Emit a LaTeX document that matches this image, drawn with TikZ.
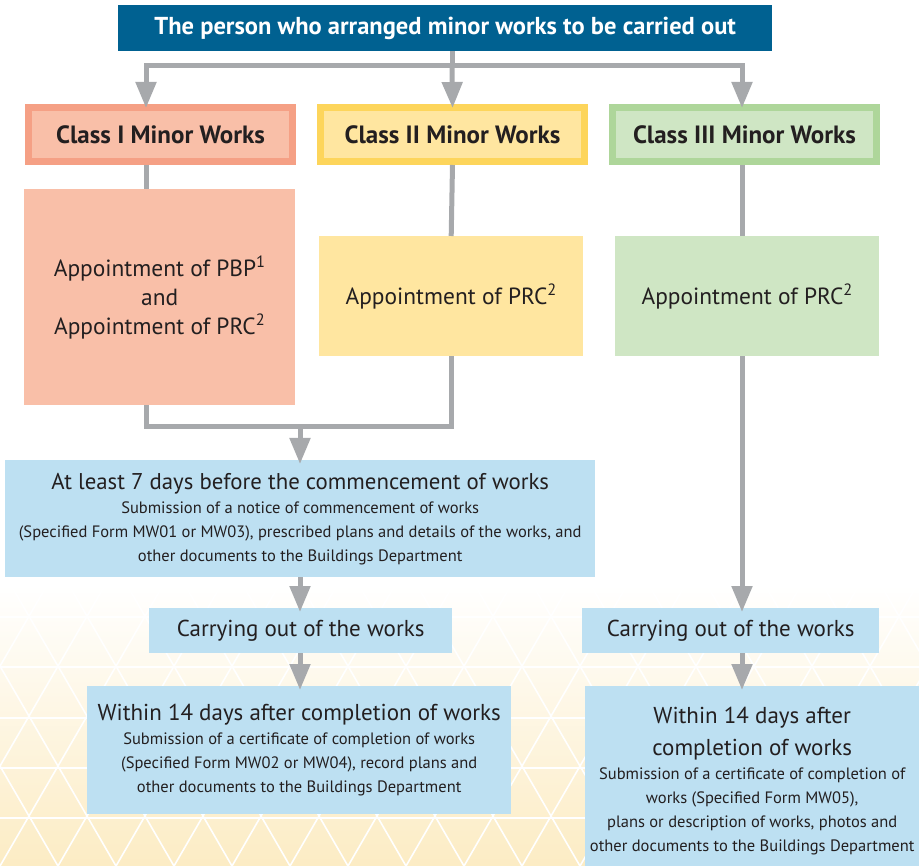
\documentclass[tikz,border=0pt]{standalone}
\usepackage{fontspec}
\setmainfont{PT Sans}
\usetikzlibrary{arrows.meta,calc}
\definecolor{topblue}{RGB}{0,97,145}
\definecolor{lineg}{RGB}{167,169,172}
\definecolor{salB}{RGB}{245,160,133}
\definecolor{salF}{RGB}{249,191,168}
\definecolor{yelB}{RGB}{253,213,91}
\definecolor{yelF}{RGB}{255,230,160}
\definecolor{grnB}{RGB}{174,214,154}
\definecolor{grnF}{RGB}{207,230,196}
\definecolor{bluF}{RGB}{189,224,242}
\definecolor{bgY}{RGB}{252,236,196}
\definecolor{txt}{RGB}{35,31,32}
\tikzset{
  box/.style={inner sep=0pt, align=center, text=txt, anchor=north west},
  classbox/.style={box, line width=7pt, minimum width=264pt, minimum height=54pt,
     font=\bfseries\fontsize{25}{29}\selectfont},
  apbox/.style={box, font=\fontsize{23.4}{29}\selectfont},
  bluebox/.style={box, fill=bluF},
  conn/.style={draw=lineg, line width=5pt},
  arr/.style={conn, -{Triangle[width=20pt,length=26pt]}, shorten >=-4pt},
}
\begin{document}
\begin{tikzpicture}[x=1pt,y=-1pt]
\useasboundingbox (0,0) rectangle (919,866);
% background
\begin{scope}
\clip (0,585) rectangle (919,866);
\shade[top color=white, bottom color=bgY] (0,585) rectangle (919,866);
\foreach \k in {-4,...,20}{
  \draw[white, line width=1.6pt] (58*\k,866) -- ++(166,-286);
  \draw[white, line width=1.6pt] (58*\k,866) -- ++(-166,-286);
}
\foreach \yy in {617,667,718,768,818}{
  \draw[white, line width=1.6pt] (0,\yy) -- (919,\yy);
}
\end{scope}
% nodes
\node[box, fill=topblue, minimum width=654pt, minimum height=46pt, text=white,
  font=\bfseries\fontsize{24.5}{28}\selectfont] (top) at (118,5)
  {The person who arranged minor works to be carried out};
\node[classbox, draw=salB, fill=salF] (c1) at (25,104) {Class I Minor Works};
\node[classbox, draw=yelB, fill=yelF] (c2) at (317,104) {Class II Minor Works};
\node[classbox, draw=grnB, fill=grnF] (c3) at (609,104) {Class III Minor Works};
\node[apbox, fill=salF, minimum width=271pt, minimum height=216pt] (a1) at (24,189)
  {Appointment of PBP\textsuperscript{1}\\and\\Appointment of PRC\textsuperscript{2}};
\node[apbox, fill=yelF, minimum width=264pt, minimum height=120pt] (a2) at (319,236)
  {Appointment of PRC\textsuperscript{2}};
\node[apbox, fill=grnF, minimum width=264pt, minimum height=120pt] (a3) at (615,236)
  {Appointment of PRC\textsuperscript{2}};
\node[bluebox, minimum width=590pt, minimum height=117pt, font=\fontsize{16.5}{24}\selectfont] (b4) at (5,460)
  {{\fontsize{22.8}{26}\selectfont At least 7 days before the commencement of works}\\
   Submission of a notice of commencement of works\\
   (Specified Form MW01 or MW03), prescribed plans and details of the works, and\\
   other documents to the Buildings Department};
\node[bluebox, minimum width=303pt, minimum height=45pt, font=\fontsize{23}{26}\selectfont] (b5) at (149,608)
  {Carrying out of the works};
\node[bluebox, minimum width=424pt, minimum height=128pt, font=\fontsize{16.5}{24}\selectfont] (b6) at (87,686)
  {{\fontsize{23}{26}\selectfont Within 14 days after completion of works}\\
   Submission of a certificate of completion of works\\
   (Specified Form MW02 or MW04), record plans and\\
   other documents to the Buildings Department};
\node[bluebox, minimum width=334pt, minimum height=180pt] (b8) at (585,686) {};
\node[box, anchor=center, font=\fontsize{16.5}{24}\selectfont] (b8t) at ([yshift=-5pt]b8.center)
  {{\fontsize{23}{26}\selectfont Within 14 days after}\\[8pt]
   {\fontsize{23}{26}\selectfont completion of works}\\
   Submission of a certificate of completion of\\
   works (Specified Form MW05),\\
   plans or description of works, photos and\\
   other documents to the Buildings Department};
\node[bluebox, minimum width=297pt, minimum height=45pt, font=\fontsize{23}{26}\selectfont] (b7) at (582,608)
  {Carrying out of the works};
% connectors
\coordinate (j) at (452,66);
\coordinate (x1) at (146,0);
\coordinate (x3) at (742,0);
\coordinate (xm) at (300,0);
\coordinate (m) at (300,427);
\draw[conn] (j |- top.south) -- (j);
\draw[arr] (j) -| (x1 |- c1.north);
\draw[arr] (j) -| (x3 |- c3.north);
\draw[arr] (j) -- (c2.north);
\draw[conn] (x1 |- c1.south) -- (x1 |- a1.north);
\draw[conn] (c2.south) -- (a2.north);
\draw[conn] (x3 |- c3.south) -- (x3 |- a3.north);
\draw[conn] (x1 |- a1.south) |- (m) -| (a2.south);
\draw[arr] (m) -- (xm |- b4.north);
\draw[arr] (xm |- b4.south) -- (xm |- b5.north);
\draw[arr] (xm |- b5.south) -- (xm |- b6.north);
\draw[arr] (x3 |- a3.south) -- (x3 |- b7.north);
\draw[arr] (x3 |- b7.south) -- (x3 |- b8.north);
\end{tikzpicture}
\end{document}
